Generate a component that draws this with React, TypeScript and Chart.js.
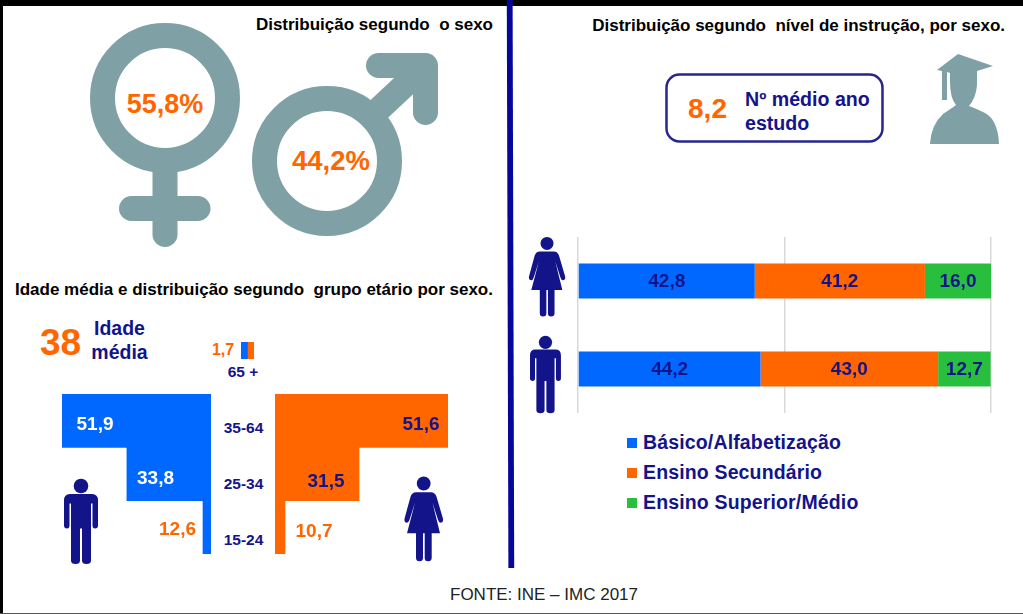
import React, { useEffect, useRef } from "react";
import { Chart, registerables } from "chart.js";

Chart.register(...registerables);

// ---- data ----
const sexShares = { female: "55,8%", male: "44,2%" };
const educationSexes = ["Mulheres", "Homens"];
const educationLevels = ["Básico/Alfabetização", "Ensino Secundário", "Ensino Superior/Médio"];
const educationBasic = [42.8, 44.2];
const educationSecondary = [41.2, 43.0];
const educationHigher = [16.0, 12.7];

const ageGroups = ["35-64", "25-34", "15-24"];
const olderGroup = "65 +";
const maleAgeLabels = [51.9, 33.8, 12.6];
const femaleAgeLabels = [51.6, 31.5, 10.7];
const olderShare = 1.7;
// The source graphic's bars are not proportional to their printed numbers:
// these are the lengths as actually drawn (same units as the male 51,9 bar).
const maleDrawnLength = [51.9, 29.3, 2.8];
const femaleDrawnLength = [60.3, 29.3, 3.5];

const meanAge = "38";
const meanSchooling = "8,2";

// ---- styles ----
const BLUE = "#0068ff";
const ORANGE = "#ff6600";
const GREEN = "#28bf3e";
const NAVY = "#13138a";
const TEAL = "#7fa0a5";
const FONT = '"Liberation Sans", Arial, sans-serif';
const fmt = (v: number) => v.toFixed(1).replace(".", ",");

function useChart(build: () => any) {
  const ref = useRef<HTMLCanvasElement | null>(null);
  useEffect(() => {
    const c = new Chart(ref.current as HTMLCanvasElement, build());
    return () => c.destroy();
  }, []);
  return ref;
}

const centreLabels = {
  id: "centreLabels",
  afterDatasetsDraw(chart: any) {
    const { ctx } = chart;
    ctx.save();
    ctx.font = `bold 19px ${FONT}`;
    ctx.fillStyle = NAVY;
    ctx.textAlign = "center";
    ctx.textBaseline = "middle";
    chart.data.datasets.forEach((ds: any, i: number) => {
      chart.getDatasetMeta(i).data.forEach((bar: any, j: number) => {
        const p = bar.getCenterPoint();
        ctx.fillText(fmt(ds.data[j]), p.x, p.y + 1);
      });
    });
    ctx.restore();
  },
};

const baseOptions = {
  animation: false as const,
  responsive: false,
  indexAxis: "y" as const,
  events: [] as string[],
  plugins: { legend: { display: false }, tooltip: { enabled: false } },
};

function EducationChart() {
  const ref = useChart(() => ({
    type: "bar",
    data: {
      labels: educationSexes,
      datasets: [
        { label: educationLevels[0], data: educationBasic, backgroundColor: BLUE },
        { label: educationLevels[1], data: educationSecondary, backgroundColor: ORANGE },
        { label: educationLevels[2], data: educationHigher, backgroundColor: GREEN },
      ].map((d) => ({ ...d, categoryPercentage: 0.4, barPercentage: 1, borderWidth: 0 })),
    },
    options: {
      ...baseOptions,
      layout: { padding: { left: 8, right: 8, top: 0, bottom: 0 } },
      scales: {
        x: {
          stacked: true,
          min: 0,
          max: 100,
          ticks: { display: false, stepSize: 50 },
          grid: { color: "#d9d9d9", lineWidth: 1.5, drawTicks: false },
          border: { display: false },
        },
        y: { stacked: true, display: false },
      },
    },
    plugins: [centreLabels],
  }));
  return <canvas ref={ref} width={429} height={176} style={{ position: "absolute", left: 570, top: 236.5 }} />;
}

function AgeBars({ data, color, reverse, style, w, h }: any) {
  const ref = useChart(() => ({
    type: "bar",
    data: {
      labels: ageGroups,
      datasets: [{ data, backgroundColor: color, categoryPercentage: 1, barPercentage: 1, borderWidth: 0 }],
    },
    options: {
      ...baseOptions,
      scales: {
        x: { display: false, min: 0, max: data[0], reverse },
        y: { display: false },
      },
    },
  }));
  return <canvas ref={ref} width={w} height={h} style={{ position: "absolute", ...style }} />;
}

function OlderBar() {
  const ref = useChart(() => ({
    type: "bar",
    data: {
      labels: [olderGroup],
      datasets: [
        { data: [olderShare], backgroundColor: BLUE },
        { data: [olderShare], backgroundColor: ORANGE },
      ].map((d) => ({ ...d, categoryPercentage: 1, barPercentage: 1, borderWidth: 0 })),
    },
    options: {
      ...baseOptions,
      scales: {
        x: { display: false, stacked: true, min: 0, max: olderShare * 2 },
        y: { display: false, stacked: true },
      },
    },
  }));
  return <canvas ref={ref} width={13} height={17} style={{ position: "absolute", left: 241, top: 341.5 }} />;
}

function T({ x, y, align = "left", size, color = NAVY, weight = "bold", spacing, children }: any) {
  const tx = align === "center" ? "-50%" : align === "right" ? "-100%" : "0";
  return (
    <div
      style={{
        position: "absolute",
        left: x,
        top: y,
        transform: `translate(${tx},-50%)`,
        font: `${weight} ${size}px ${FONT}`,
        color,
        whiteSpace: "pre",
        lineHeight: 1,
        letterSpacing: spacing,
      }}
    >
      {children}
    </div>
  );
}

const MAN =
  "M6,15.5H28Q34,15.5 34,22V47Q34,50 31,50Q28.5,50 28.5,47V25H27V82Q27,85.5 22.5,85.5Q18,85.5 18,82V50H16V82Q16,85.5 11.5,85.5Q7,85.5 7,82V25H5.5V47Q5.5,50 3,50Q0,50 0,47V22Q0,15.5 6,15.5Z";
const WOMAN =
  "M12,15.5H27Q31,15.5 32.5,20L39,42Q39.5,46 36.5,46Q35,46 34,43L28.5,26L36,56.5H27.7V81Q27.7,84.5 24,84.5Q20.7,84.5 20.7,81V56.5H19V81Q19,84.5 15.5,84.5Q12,84.5 12,81V56.5H3L11,26L5.5,43Q4.5,46 3,46Q0,46 0.5,42L6.5,20Q8,15.5 12,15.5Z";

const Man = ({ x, y, s = 1 }: any) => (
  <g transform={`translate(${x},${y}) scale(${s})`} fill={NAVY}>
    <circle cx={17} cy={7.5} r={7.3} />
    <path d={MAN} />
  </g>
);
const Woman = ({ x, y, s = 1 }: any) => (
  <g transform={`translate(${x},${y}) scale(${s})`} fill={NAVY}>
    <circle cx={19.7} cy={6.8} r={6.9} />
    <path d={WOMAN} />
  </g>
);

function Icons() {
  return (
    <svg width={1023} height={614} style={{ position: "absolute", left: 0, top: 0 }}>
      <polygon points="506.8,0 512.6,0 514.2,568 508.4,568" fill="#06069c" />
      {/* female symbol */}
      <g fill="none" stroke={TEAL} strokeWidth={25}>
        <circle cx={165} cy={98} r={62.5} />
        <path d="M165,165V234.5" strokeLinecap="round" />
        <path d="M131.5,208.5H198" strokeLinecap="round" />
        {/* male symbol */}
        <circle cx={327} cy={161} r={62.5} />
        <path d="M376,112L425,66" />
        <path d="M378.5,65.5H425.5V112.5" strokeLinecap="round" strokeLinejoin="round" />
      </g>
      {/* graduate */}
      <g fill={TEAL}>
        <path d="M958,54L993,66L977,71V85Q976,98 969,106Q975,108 985,113Q998,120 999,144H930Q931,125 943,114Q952,108 956,105Q950,98 950,82V73L947,72V100H942V71L937,70Z" />
      </g>
      {/* schooling box */}
      <rect x={666.5} y={74.5} width={216} height={67} rx={13} fill="#fff" stroke="#26268c" strokeWidth={2.5} />
      <Man x={64} y={478.5} />
      <Woman x={404} y={476.7} />
      <Woman x={528.5} y={237} s={0.94} />
      <Man x={530} y={335.5} s={0.91} />
    </svg>
  );
}

export default function App() {
  return (
    <div style={{ position: "absolute", left: 0, top: 0, width: 1023, height: 614, background: "#000", overflow: "hidden" }}>
      <div style={{ position: "absolute", left: 3, top: 6, width: 1020, height: 607, background: "#fff" }} />
      <div style={{ position: "absolute", left: 0, top: 613, width: 1023, height: 1, background: "#555" }} />
      <Icons />

      <T x={493} y={24} align="right" size={17} color="#000">Distribuição segundo  o sexo</T>
      <T x={1005} y={25} align="right" size={17} color="#000">Distribuição segundo  nível de instrução, por sexo.</T>
      <T x={15} y={289} size={17} color="#000">Idade média e distribuição segundo  grupo etário por sexo.</T>

      <T x={165} y={104} align="center" size={27} color={ORANGE}>{sexShares.female}</T>
      <T x={331} y={161} align="center" size={27.5} color={ORANGE}>{sexShares.male}</T>

      <T x={60.5} y={342} align="center" size={37} color={ORANGE}>{meanAge}</T>
      <T x={119.5} y={329} align="center" size={19.5}>Idade</T>
      <T x={119.5} y={352.5} align="center" size={19.5}>média</T>

      <T x={223} y={349.5} align="center" size={16} color={ORANGE}>{fmt(olderShare)}</T>
      <OlderBar />
      <T x={243} y={372} align="center" size={15.5}>{olderGroup}</T>

      <AgeBars data={maleDrawnLength} color={BLUE} reverse w={149} h={160} style={{ left: 62, top: 394 }} />
      <AgeBars data={femaleDrawnLength} color={ORANGE} reverse={false} w={173} h={160} style={{ left: 275, top: 394 }} />

      {ageGroups.map((g, i) => (
        <T key={g} x={243.5} y={[428, 484, 540][i]} align="center" size={15.5}>{g}</T>
      ))}
      {maleAgeLabels.map((v, i) => (
        <T key={i} x={[95, 155.5, 177.5][i]} y={[423, 477, 528][i]} align="center" size={19} color={["#fff", "#fff", ORANGE][i]}>
          {fmt(v)}
        </T>
      ))}
      {femaleAgeLabels.map((v, i) => (
        <T key={i} x={[421, 326, 314][i]} y={[423, 480, 530][i]} align="center" size={19} color={[NAVY, NAVY, ORANGE][i]}>
          {fmt(v)}
        </T>
      ))}

      <T x={707.5} y={109} align="center" size={28} color={ORANGE}>{meanSchooling}</T>
      <T x={745} y={100} size={19.6}>Nº médio ano</T>
      <T x={745} y={124} size={19.6}>estudo</T>

      <EducationChart />

      {educationLevels.map((l, i) => (
        <React.Fragment key={l}>
          <div style={{ position: "absolute", left: 627, top: 438 + i * 30, width: 10, height: 10, background: [BLUE, ORANGE, GREEN][i] }} />
          <T x={643} y={443 + i * 30} size={19.5} spacing="0.15px">{l}</T>
        </React.Fragment>
      ))}

      <T x={544} y={593.5} align="center" size={17} weight="normal" color="#222">FONTE: INE – IMC 2017</T>
    </div>
  );
}
